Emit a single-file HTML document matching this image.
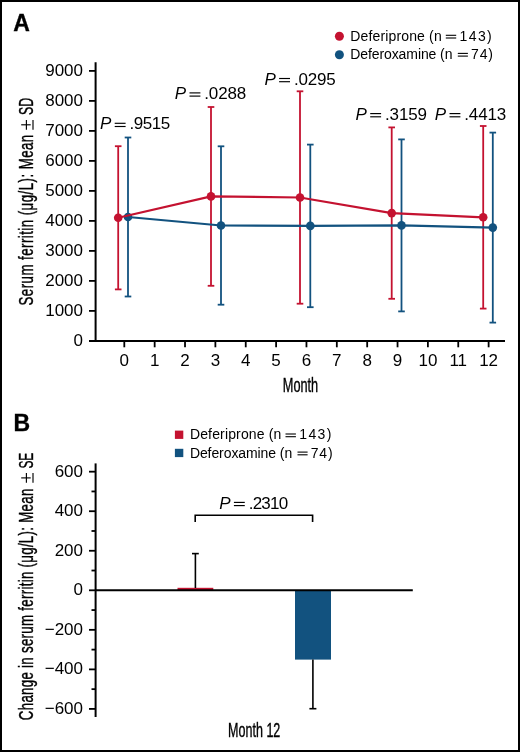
<!DOCTYPE html>
<html><head><meta charset="utf-8"><style>
html,body{margin:0;padding:0;background:#fff;}
.wrap{width:520px;height:752px;box-sizing:border-box;border:2px solid #000;position:relative;overflow:hidden;background:#fff}
svg{position:absolute;left:-2px;top:-2px;will-change:transform;}
text{font-family:"Liberation Sans", sans-serif;fill:#000;}
.tk{font-size:17px;}
.pv{font-size:17px;}
.lg{font-size:14px;}
.ax{font-size:20px;stroke:#000;stroke-width:0.4px;}
.pl{font-size:23px;font-weight:bold;stroke:#000;stroke-width:0.35px;}
.pm{font-size:22px;stroke-width:0.1px;}
</style></head><body><div class="wrap">
<svg width="520" height="752" viewBox="0 0 520 752">
<line x1="128" y1="137.5" x2="128" y2="296.5" stroke="#12527F" stroke-width="1.8"/><line x1="124.7" y1="137.5" x2="131.3" y2="137.5" stroke="#12527F" stroke-width="1.8"/><line x1="124.7" y1="296.5" x2="131.3" y2="296.5" stroke="#12527F" stroke-width="1.8"/><line x1="221" y1="146.3" x2="221" y2="304.7" stroke="#12527F" stroke-width="1.8"/><line x1="217.7" y1="146.3" x2="224.3" y2="146.3" stroke="#12527F" stroke-width="1.8"/><line x1="217.7" y1="304.7" x2="224.3" y2="304.7" stroke="#12527F" stroke-width="1.8"/><line x1="310.3" y1="144.6" x2="310.3" y2="307.2" stroke="#12527F" stroke-width="1.8"/><line x1="307" y1="144.6" x2="313.6" y2="144.6" stroke="#12527F" stroke-width="1.8"/><line x1="307" y1="307.2" x2="313.6" y2="307.2" stroke="#12527F" stroke-width="1.8"/><line x1="401.5" y1="139.4" x2="401.5" y2="311.4" stroke="#12527F" stroke-width="1.8"/><line x1="398.2" y1="139.4" x2="404.8" y2="139.4" stroke="#12527F" stroke-width="1.8"/><line x1="398.2" y1="311.4" x2="404.8" y2="311.4" stroke="#12527F" stroke-width="1.8"/><line x1="492.8" y1="132.6" x2="492.8" y2="322.6" stroke="#12527F" stroke-width="1.8"/><line x1="489.5" y1="132.6" x2="496.1" y2="132.6" stroke="#12527F" stroke-width="1.8"/><line x1="489.5" y1="322.6" x2="496.1" y2="322.6" stroke="#12527F" stroke-width="1.8"/>
<line x1="118.2" y1="146.2" x2="118.2" y2="289.4" stroke="#C41230" stroke-width="1.8"/><line x1="114.9" y1="146.2" x2="121.5" y2="146.2" stroke="#C41230" stroke-width="1.8"/><line x1="114.9" y1="289.4" x2="121.5" y2="289.4" stroke="#C41230" stroke-width="1.8"/><line x1="211" y1="107" x2="211" y2="285.8" stroke="#C41230" stroke-width="1.8"/><line x1="207.7" y1="107" x2="214.3" y2="107" stroke="#C41230" stroke-width="1.8"/><line x1="207.7" y1="285.8" x2="214.3" y2="285.8" stroke="#C41230" stroke-width="1.8"/><line x1="300" y1="91.3" x2="300" y2="303.7" stroke="#C41230" stroke-width="1.8"/><line x1="296.7" y1="91.3" x2="303.3" y2="91.3" stroke="#C41230" stroke-width="1.8"/><line x1="296.7" y1="303.7" x2="303.3" y2="303.7" stroke="#C41230" stroke-width="1.8"/><line x1="391.7" y1="127.4" x2="391.7" y2="298.8" stroke="#C41230" stroke-width="1.8"/><line x1="388.4" y1="127.4" x2="395" y2="127.4" stroke="#C41230" stroke-width="1.8"/><line x1="388.4" y1="298.8" x2="395" y2="298.8" stroke="#C41230" stroke-width="1.8"/><line x1="483.2" y1="126" x2="483.2" y2="308.6" stroke="#C41230" stroke-width="1.8"/><line x1="479.9" y1="126" x2="486.5" y2="126" stroke="#C41230" stroke-width="1.8"/><line x1="479.9" y1="308.6" x2="486.5" y2="308.6" stroke="#C41230" stroke-width="1.8"/>
<polyline points="128,217 221,225.5 310.3,225.9 401.5,225.4 492.8,227.6" fill="none" stroke="#12527F" stroke-width="2.2"/><circle cx="128" cy="217" r="4.3" fill="#12527F"/><circle cx="221" cy="225.5" r="4.3" fill="#12527F"/><circle cx="310.3" cy="225.9" r="4.3" fill="#12527F"/><circle cx="401.5" cy="225.4" r="4.3" fill="#12527F"/><circle cx="492.8" cy="227.6" r="4.3" fill="#12527F"/>
<polyline points="118.2,217.8 211,196.4 300,197.5 391.7,213.1 483.2,217.3" fill="none" stroke="#C41230" stroke-width="2.2"/><circle cx="118.2" cy="217.8" r="4.3" fill="#C41230"/><circle cx="211" cy="196.4" r="4.3" fill="#C41230"/><circle cx="300" cy="197.5" r="4.3" fill="#C41230"/><circle cx="391.7" cy="213.1" r="4.3" fill="#C41230"/><circle cx="483.2" cy="217.3" r="4.3" fill="#C41230"/>
<line x1="95.6" y1="62.2" x2="95.6" y2="341.8" stroke="#000" stroke-width="2"/>
<line x1="89" y1="340.9" x2="505" y2="340.9" stroke="#000" stroke-width="2"/>
<line x1="89" y1="310.9" x2="95.6" y2="310.9" stroke="#000" stroke-width="1.8"/>
<line x1="89" y1="280.9" x2="95.6" y2="280.9" stroke="#000" stroke-width="1.8"/>
<line x1="89" y1="250.9" x2="95.6" y2="250.9" stroke="#000" stroke-width="1.8"/>
<line x1="89" y1="220.9" x2="95.6" y2="220.9" stroke="#000" stroke-width="1.8"/>
<line x1="89" y1="190.9" x2="95.6" y2="190.9" stroke="#000" stroke-width="1.8"/>
<line x1="89" y1="160.9" x2="95.6" y2="160.9" stroke="#000" stroke-width="1.8"/>
<line x1="89" y1="130.9" x2="95.6" y2="130.9" stroke="#000" stroke-width="1.8"/>
<line x1="89" y1="100.9" x2="95.6" y2="100.9" stroke="#000" stroke-width="1.8"/>
<line x1="89" y1="70.9" x2="95.6" y2="70.9" stroke="#000" stroke-width="1.8"/>
<text x="83" y="345.8" text-anchor="end" class="tk">0</text>
<text x="83" y="315.8" text-anchor="end" class="tk">1000</text>
<text x="83" y="285.8" text-anchor="end" class="tk">2000</text>
<text x="83" y="255.8" text-anchor="end" class="tk">3000</text>
<text x="83" y="225.8" text-anchor="end" class="tk">4000</text>
<text x="83" y="195.8" text-anchor="end" class="tk">5000</text>
<text x="83" y="165.8" text-anchor="end" class="tk">6000</text>
<text x="83" y="135.8" text-anchor="end" class="tk">7000</text>
<text x="83" y="105.8" text-anchor="end" class="tk">8000</text>
<text x="83" y="75.8" text-anchor="end" class="tk">9000</text>
<line x1="124.3" y1="340.9" x2="124.3" y2="347.3" stroke="#000" stroke-width="1.8"/>
<text x="124.3" y="365.5" text-anchor="middle" class="tk">0</text>
<line x1="154.66" y1="340.9" x2="154.66" y2="347.3" stroke="#000" stroke-width="1.8"/>
<text x="154.66" y="365.5" text-anchor="middle" class="tk">1</text>
<line x1="185.02" y1="340.9" x2="185.02" y2="347.3" stroke="#000" stroke-width="1.8"/>
<text x="185.02" y="365.5" text-anchor="middle" class="tk">2</text>
<line x1="215.38" y1="340.9" x2="215.38" y2="347.3" stroke="#000" stroke-width="1.8"/>
<text x="215.38" y="365.5" text-anchor="middle" class="tk">3</text>
<line x1="245.74" y1="340.9" x2="245.74" y2="347.3" stroke="#000" stroke-width="1.8"/>
<text x="245.74" y="365.5" text-anchor="middle" class="tk">4</text>
<line x1="276.1" y1="340.9" x2="276.1" y2="347.3" stroke="#000" stroke-width="1.8"/>
<text x="276.1" y="365.5" text-anchor="middle" class="tk">5</text>
<line x1="306.46" y1="340.9" x2="306.46" y2="347.3" stroke="#000" stroke-width="1.8"/>
<text x="306.46" y="365.5" text-anchor="middle" class="tk">6</text>
<line x1="336.82" y1="340.9" x2="336.82" y2="347.3" stroke="#000" stroke-width="1.8"/>
<text x="336.82" y="365.5" text-anchor="middle" class="tk">7</text>
<line x1="367.18" y1="340.9" x2="367.18" y2="347.3" stroke="#000" stroke-width="1.8"/>
<text x="367.18" y="365.5" text-anchor="middle" class="tk">8</text>
<line x1="397.54" y1="340.9" x2="397.54" y2="347.3" stroke="#000" stroke-width="1.8"/>
<text x="397.54" y="365.5" text-anchor="middle" class="tk">9</text>
<line x1="427.9" y1="340.9" x2="427.9" y2="347.3" stroke="#000" stroke-width="1.8"/>
<text x="427.9" y="365.5" text-anchor="middle" class="tk">10</text>
<line x1="458.26" y1="340.9" x2="458.26" y2="347.3" stroke="#000" stroke-width="1.8"/>
<text x="458.26" y="365.5" text-anchor="middle" class="tk">11</text>
<line x1="488.62" y1="340.9" x2="488.62" y2="347.3" stroke="#000" stroke-width="1.8"/>
<text x="488.62" y="365.5" text-anchor="middle" class="tk">12</text>
<text x="100" y="129.4" class="pv" font-style="italic">P</text>
<line x1="114.7" y1="123.3" x2="125.6" y2="123.3" stroke="#000" stroke-width="1.15"/>
<line x1="114.7" y1="126.5" x2="125.6" y2="126.5" stroke="#000" stroke-width="1.15"/>
<text x="129.5" y="129.4" class="pv" style="letter-spacing:-0.450px">.9515</text>
<text x="174.8" y="99" class="pv" font-style="italic">P</text>
<line x1="189.5" y1="92.9" x2="200.4" y2="92.9" stroke="#000" stroke-width="1.15"/>
<line x1="189.5" y1="96.1" x2="200.4" y2="96.1" stroke="#000" stroke-width="1.15"/>
<text x="204.3" y="99" class="pv" style="letter-spacing:-0.150px">.0288</text>
<text x="264.4" y="84.6" class="pv" font-style="italic">P</text>
<line x1="279.1" y1="78.5" x2="290" y2="78.5" stroke="#000" stroke-width="1.15"/>
<line x1="279.1" y1="81.7" x2="290" y2="81.7" stroke="#000" stroke-width="1.15"/>
<text x="293.9" y="84.6" class="pv" style="letter-spacing:-0.200px">.0295</text>
<text x="355.5" y="119.7" class="pv" font-style="italic">P</text>
<line x1="370.2" y1="113.6" x2="381.1" y2="113.6" stroke="#000" stroke-width="1.15"/>
<line x1="370.2" y1="116.8" x2="381.1" y2="116.8" stroke="#000" stroke-width="1.15"/>
<text x="385" y="119.7" class="pv" style="letter-spacing:-0.125px">.3159</text>
<text x="434.8" y="119.7" class="pv" font-style="italic">P</text>
<line x1="449.5" y1="113.6" x2="460.4" y2="113.6" stroke="#000" stroke-width="1.15"/>
<line x1="449.5" y1="116.8" x2="460.4" y2="116.8" stroke="#000" stroke-width="1.15"/>
<text x="464.3" y="119.7" class="pv" style="letter-spacing:-0.150px">.4413</text>
<text x="13.3" y="30.6" class="pl">A</text>
<text x="13.4" y="431.2" class="pl">B</text>
<text transform="translate(300.5,392) scale(0.6365,1)" text-anchor="middle" class="ax">Month</text>
<text transform="translate(33,305.47) rotate(-90) scale(0.665,1)" class="ax" style="letter-spacing:0.676px">Serum ferritin (μg/L): Mean</text>
<text transform="translate(33,115.02) rotate(-90) scale(0.62,1)" class="ax" style="letter-spacing:0.129px">SD</text>
<line x1="26.4" y1="119.9" x2="26.4" y2="129.7" stroke="#000" stroke-width="1.15"/>
<line x1="21.2" y1="124.8" x2="30.7" y2="124.8" stroke="#000" stroke-width="1.15"/>
<line x1="33" y1="119.9" x2="33" y2="129.7" stroke="#000" stroke-width="1.15"/>
<circle cx="339.4" cy="36.3" r="4.5" fill="#C41230"/>
<circle cx="339.4" cy="54.8" r="4.5" fill="#12527F"/>
<text x="350.2" y="40.7" class="lg" style="letter-spacing:0.154px">Deferiprone (n</text>
<line x1="445.8" y1="35.3" x2="456.2" y2="35.3" stroke="#000" stroke-width="1.1"/>
<line x1="445.8" y1="38" x2="456.2" y2="38" stroke="#000" stroke-width="1.1"/>
<text x="459.6" y="40.7" class="lg" style="letter-spacing:1.367px">143)</text>
<text x="350.2" y="58.8" class="lg" style="letter-spacing:-0.086px">Deferoxamine (n</text>
<line x1="457.8" y1="53.4" x2="467.9" y2="53.4" stroke="#000" stroke-width="1.1"/>
<line x1="457.8" y1="56.1" x2="467.9" y2="56.1" stroke="#000" stroke-width="1.1"/>
<text x="471" y="58.8" class="lg" style="letter-spacing:0.850px">74)</text>
<rect x="177.5" y="587.8" width="35.8" height="2.5" fill="#C41230"/>
<rect x="295" y="590.3" width="36" height="69.3" fill="#12527F"/>
<line x1="195.4" y1="553.6" x2="195.4" y2="588" stroke="#000" stroke-width="1.6"/>
<line x1="192" y1="553.6" x2="198.8" y2="553.6" stroke="#000" stroke-width="1.6"/>
<line x1="312.9" y1="659.6" x2="312.9" y2="708.7" stroke="#000" stroke-width="1.6"/>
<line x1="309.4" y1="708.7" x2="316.4" y2="708.7" stroke="#000" stroke-width="1.6"/>
<line x1="95.6" y1="463.4" x2="95.6" y2="717" stroke="#000" stroke-width="2"/>
<line x1="95.6" y1="590.3" x2="412.8" y2="590.3" stroke="#000" stroke-width="2"/>
<line x1="89" y1="708.92" x2="95.6" y2="708.92" stroke="#000" stroke-width="1.8"/>
<text x="83" y="714.02" text-anchor="end" class="tk">−600</text>
<line x1="91.5" y1="689.15" x2="95.6" y2="689.15" stroke="#000" stroke-width="1.8"/>
<line x1="89" y1="669.38" x2="95.6" y2="669.38" stroke="#000" stroke-width="1.8"/>
<text x="83" y="674.48" text-anchor="end" class="tk">−400</text>
<line x1="91.5" y1="649.61" x2="95.6" y2="649.61" stroke="#000" stroke-width="1.8"/>
<line x1="89" y1="629.84" x2="95.6" y2="629.84" stroke="#000" stroke-width="1.8"/>
<text x="83" y="634.94" text-anchor="end" class="tk">−200</text>
<line x1="91.5" y1="610.07" x2="95.6" y2="610.07" stroke="#000" stroke-width="1.8"/>
<line x1="89" y1="590.3" x2="95.6" y2="590.3" stroke="#000" stroke-width="1.8"/>
<text x="83" y="595.4" text-anchor="end" class="tk">0</text>
<line x1="91.5" y1="570.53" x2="95.6" y2="570.53" stroke="#000" stroke-width="1.8"/>
<line x1="89" y1="550.76" x2="95.6" y2="550.76" stroke="#000" stroke-width="1.8"/>
<text x="83" y="555.86" text-anchor="end" class="tk">200</text>
<line x1="91.5" y1="530.99" x2="95.6" y2="530.99" stroke="#000" stroke-width="1.8"/>
<line x1="89" y1="511.22" x2="95.6" y2="511.22" stroke="#000" stroke-width="1.8"/>
<text x="83" y="516.32" text-anchor="end" class="tk">400</text>
<line x1="91.5" y1="491.45" x2="95.6" y2="491.45" stroke="#000" stroke-width="1.8"/>
<line x1="89" y1="471.68" x2="95.6" y2="471.68" stroke="#000" stroke-width="1.8"/>
<text x="83" y="476.78" text-anchor="end" class="tk">600</text>
<path d="M195.2 522 V515.2 H312.6 V522" fill="none" stroke="#000" stroke-width="1.6"/>
<text x="219.2" y="508.5" class="pv" font-style="italic">P</text>
<line x1="233.9" y1="502.4" x2="244.8" y2="502.4" stroke="#000" stroke-width="1.15"/>
<line x1="233.9" y1="505.6" x2="244.8" y2="505.6" stroke="#000" stroke-width="1.15"/>
<text x="248.7" y="508.5" class="pv" style="letter-spacing:-0.750px">.2310</text>
<rect x="174.9" y="430.6" width="8.4" height="8.3" fill="#C41230"/>
<rect x="174.9" y="448.8" width="8.4" height="8.3" fill="#12527F"/>
<text x="189.9" y="439.4" class="lg" style="letter-spacing:0.154px">Deferiprone (n</text>
<line x1="285.5" y1="434" x2="295.9" y2="434" stroke="#000" stroke-width="1.1"/>
<line x1="285.5" y1="436.7" x2="295.9" y2="436.7" stroke="#000" stroke-width="1.1"/>
<text x="299.3" y="439.4" class="lg" style="letter-spacing:1.367px">143)</text>
<text x="189.9" y="457.5" class="lg" style="letter-spacing:-0.086px">Deferoxamine (n</text>
<line x1="297.5" y1="452.1" x2="307.6" y2="452.1" stroke="#000" stroke-width="1.1"/>
<line x1="297.5" y1="454.8" x2="307.6" y2="454.8" stroke="#000" stroke-width="1.1"/>
<text x="310.7" y="457.5" class="lg" style="letter-spacing:0.850px">74)</text>
<text transform="translate(254.2,737) scale(0.627,1)" text-anchor="middle" class="ax">Month 12</text>
<text transform="translate(33.2,720.16) rotate(-90) scale(0.665,1)" class="ax" style="letter-spacing:0.434px">Change in serum ferritin (μg/L): Mean</text>
<text transform="translate(33.2,468.4) rotate(-90) scale(0.6,1)" class="ax" style="letter-spacing:-0.500px">SE</text>
<line x1="26.4" y1="473" x2="26.4" y2="482.8" stroke="#000" stroke-width="1.15"/>
<line x1="21.2" y1="477.9" x2="30.7" y2="477.9" stroke="#000" stroke-width="1.15"/>
<line x1="33" y1="473" x2="33" y2="482.8" stroke="#000" stroke-width="1.15"/>
</svg></div></body></html>
